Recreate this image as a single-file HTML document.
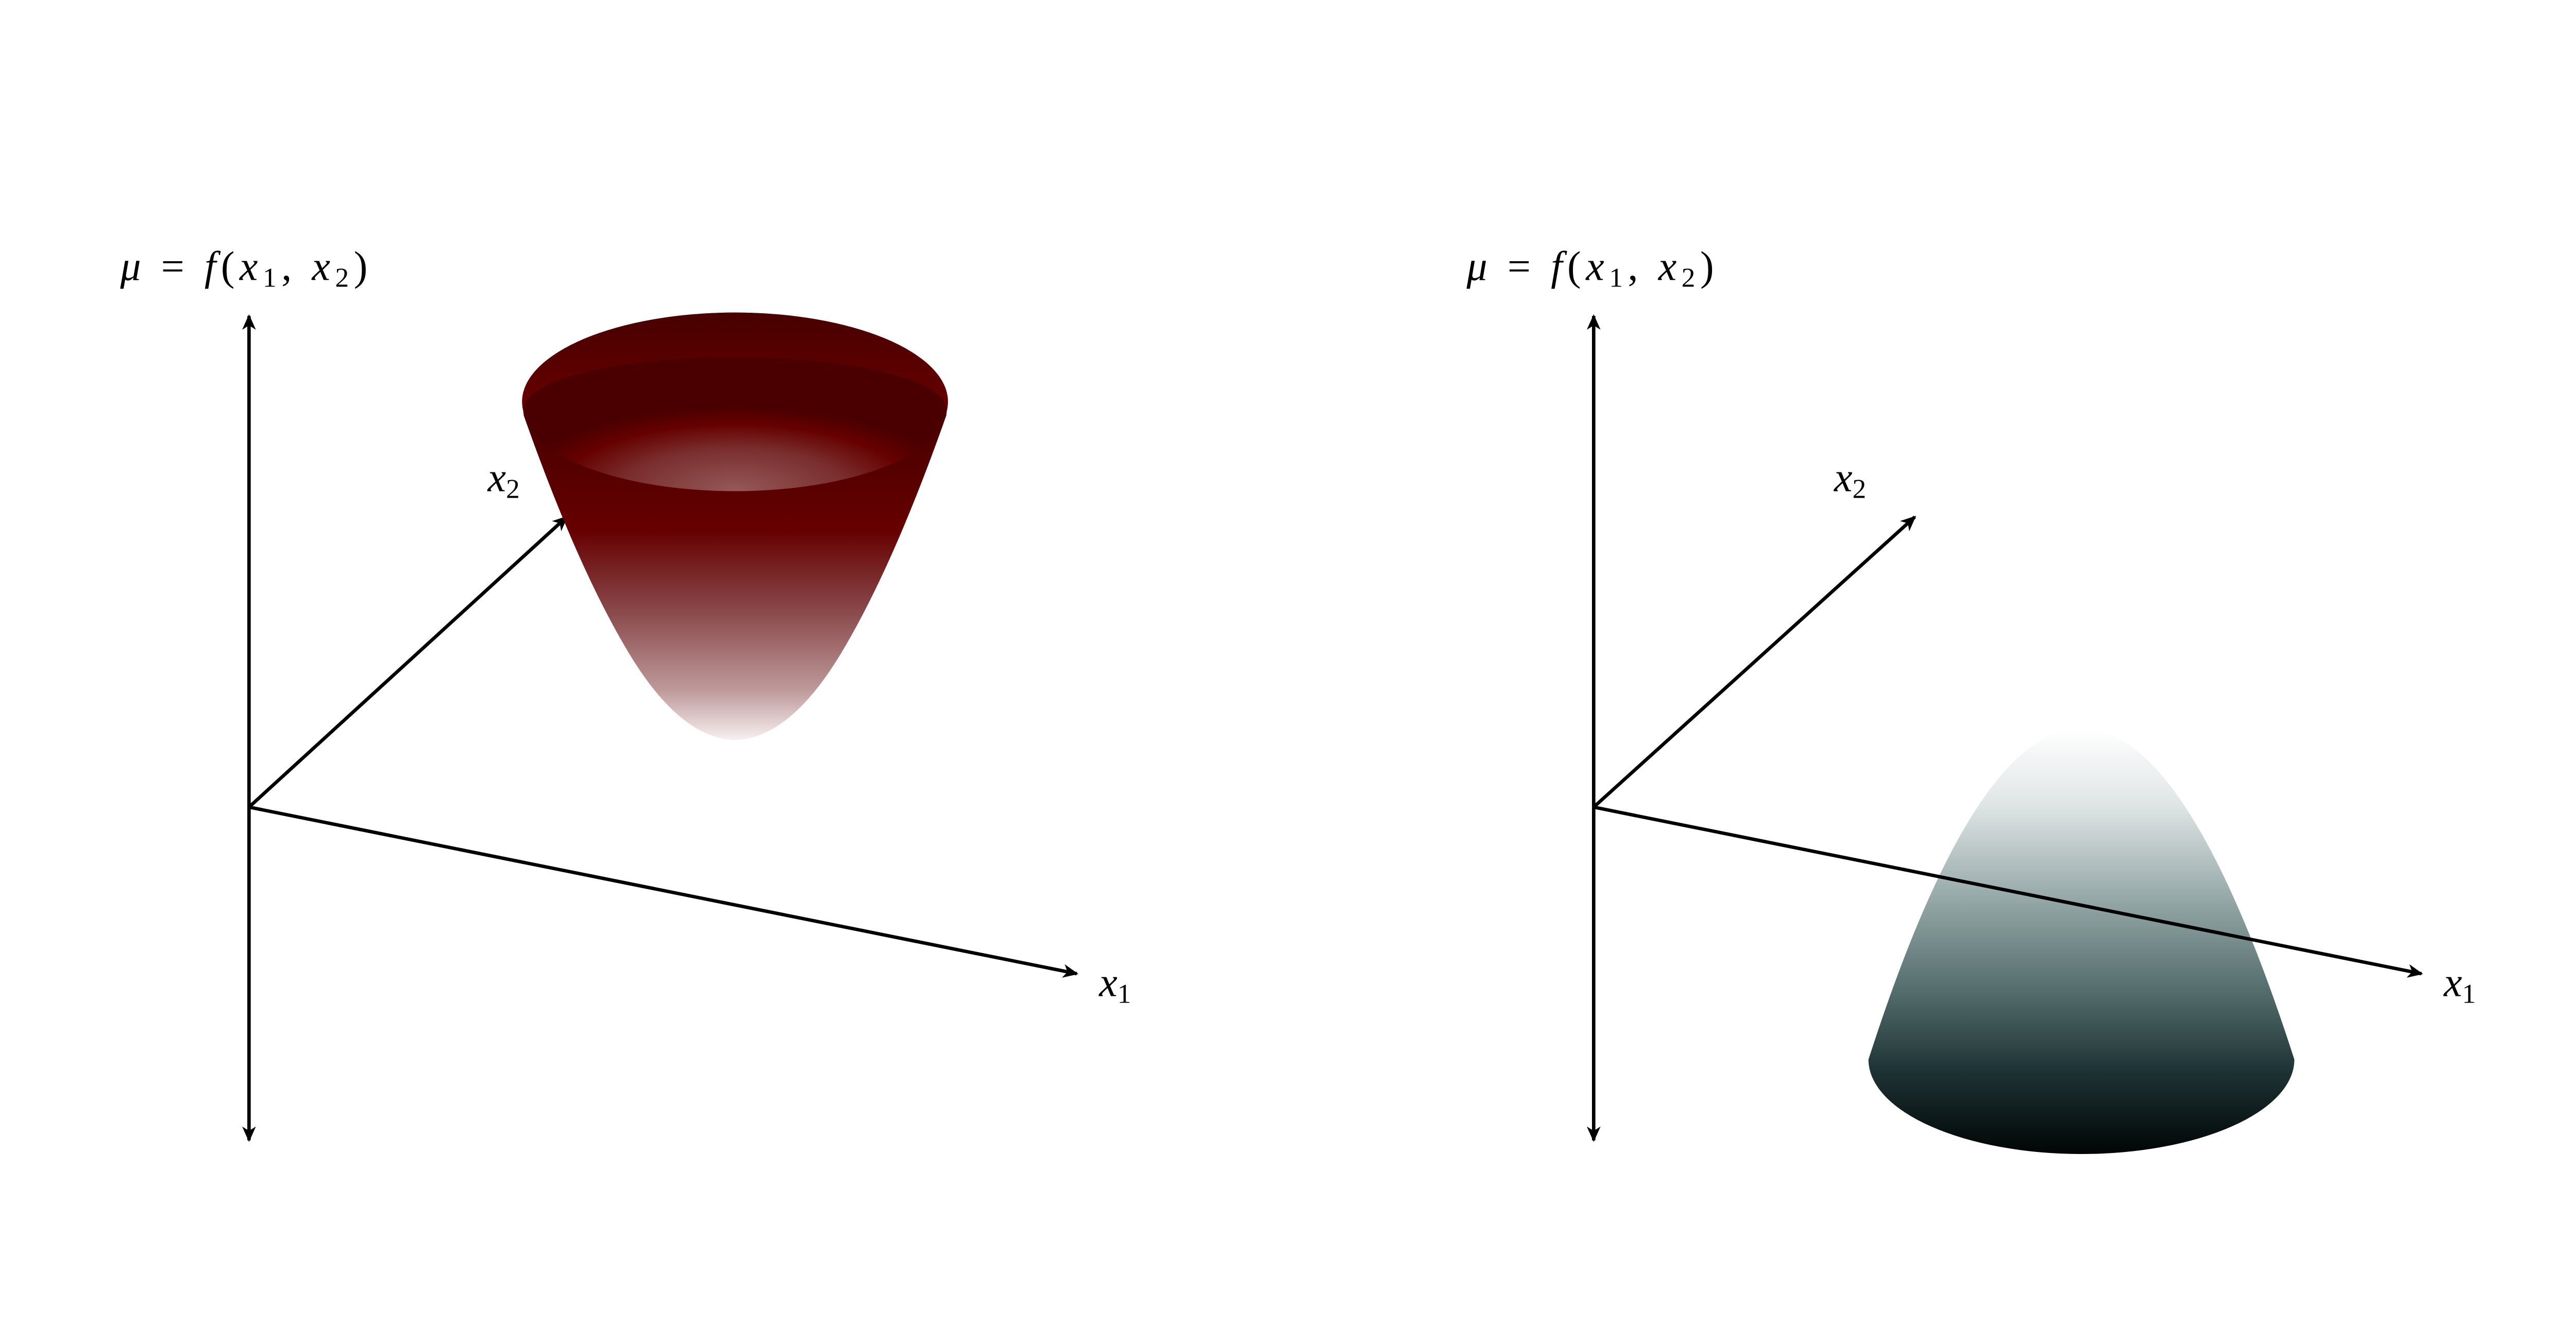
<!DOCTYPE html>
<html><head><meta charset="utf-8"><style>
html,body{margin:0;padding:0;background:#fff}
svg{display:block}
text{font-family:"Liberation Serif",serif;font-style:italic;fill:#000}
.up{font-style:normal}
</style></head><body>
<svg width="5200" height="2601" viewBox="0 0 1560 780.3" xmlns="http://www.w3.org/2000/svg">
<defs>
<marker id="ah" markerWidth="10" markerHeight="10" refX="8" refY="5" orient="auto" markerUnits="userSpaceOnUse">
<path d="M0,1 L9,5 L0,9 L2.5,5 Z" fill="#000"/>
</marker>
<linearGradient id="bowlBody" x1="0" y1="234" x2="0" y2="432" gradientUnits="userSpaceOnUse">
<stop offset="0" stop-color="#440000"/>
<stop offset="0.38" stop-color="#660000"/>
<stop offset="0.62" stop-color="#8a4a4c"/>
<stop offset="0.85" stop-color="#bf9a9b"/>
<stop offset="1" stop-color="#f9f3f3"/>
</linearGradient>
<radialGradient id="bowlIn" cx="428" cy="285" r="130" gradientTransform="translate(0,180) scale(1,0.37)" gradientUnits="userSpaceOnUse">
<stop offset="0" stop-color="#955858"/>
<stop offset="0.5" stop-color="#7a2e2e"/>
<stop offset="0.8" stop-color="#660000"/>
<stop offset="1" stop-color="#4a0000"/>
</radialGradient>
<linearGradient id="rimTop" x1="0" y1="182" x2="0" y2="286" gradientUnits="userSpaceOnUse">
<stop offset="0" stop-color="#480000"/>
<stop offset="0.5" stop-color="#650000"/>
<stop offset="1" stop-color="#4a0000"/>
</linearGradient>
<linearGradient id="dome" x1="0" y1="424" x2="0" y2="673" gradientUnits="userSpaceOnUse">
<stop offset="0" stop-color="#ffffff"/>
<stop offset="0.18" stop-color="#dfe5e5"/>
<stop offset="0.42" stop-color="#8fa2a2"/>
<stop offset="0.62" stop-color="#536b6b"/>
<stop offset="0.8" stop-color="#1e3335"/>
<stop offset="1" stop-color="#000404"/>
</linearGradient>
</defs>

<g>
<line x1="145" y1="470" x2="145" y2="184" stroke="#000" stroke-width="2" marker-end="url(#ah)"/>
<line x1="145" y1="470" x2="145" y2="664" stroke="#000" stroke-width="2" marker-end="url(#ah)"/>
<line x1="145" y1="470" x2="330" y2="301" stroke="#000" stroke-width="2" marker-end="url(#ah)"/>
<line x1="145" y1="470" x2="627" y2="567" stroke="#000" stroke-width="2" marker-end="url(#ah)"/>
<g>
<path d="M304,234 A124,52 0 0 1 552,234 L551,242 Q520,330 490,380 Q460,430 428,431 Q396,430 366,380 Q336,330 305,242 Z" fill="url(#bowlBody)"/>
<ellipse cx="428" cy="234" rx="124" ry="52" fill="url(#rimTop)"/>
<path d="M305,238 A123,48 0 0 0 551,238 A123,30 0 0 0 305,238 Z" fill="url(#bowlIn)"/>
</g>
<text x="70" y="163" font-size="24" textLength="144">μ <tspan class="up">=</tspan> f<tspan class="up">(</tspan>x<tspan class="up" font-size="16" dy="4">1</tspan><tspan class="up" dy="-4">,</tspan> x<tspan class="up" font-size="16" dy="4">2</tspan><tspan class="up" dy="-4">)</tspan></text>
<text x="284" y="286" font-size="24">x<tspan class="up" font-size="16" dy="4">2</tspan></text>
<text x="640" y="580" font-size="24">x<tspan class="up" font-size="16" dy="4">1</tspan></text>
</g>

<g>
<line x1="928" y1="470" x2="928" y2="184" stroke="#000" stroke-width="2" marker-end="url(#ah)"/>
<line x1="928" y1="470" x2="928" y2="664" stroke="#000" stroke-width="2" marker-end="url(#ah)"/>
<line x1="928" y1="470" x2="1115" y2="301" stroke="#000" stroke-width="2" marker-end="url(#ah)"/>
<g>
<path d="M1088,617 Q1150,424 1212,424 Q1274,424 1336,617 A124,55 0 0 1 1088,617 Z" fill="url(#dome)"/>
</g>
<line x1="928" y1="470" x2="1410" y2="567" stroke="#000" stroke-width="2" marker-end="url(#ah)"/>
<text x="854" y="163" font-size="24" textLength="144">μ <tspan class="up">=</tspan> f<tspan class="up">(</tspan>x<tspan class="up" font-size="16" dy="4">1</tspan><tspan class="up" dy="-4">,</tspan> x<tspan class="up" font-size="16" dy="4">2</tspan><tspan class="up" dy="-4">)</tspan></text>
<text x="1068" y="286" font-size="24">x<tspan class="up" font-size="16" dy="4">2</tspan></text>
<text x="1423" y="580" font-size="24">x<tspan class="up" font-size="16" dy="4">1</tspan></text>
</g>
</svg>
</body></html>
